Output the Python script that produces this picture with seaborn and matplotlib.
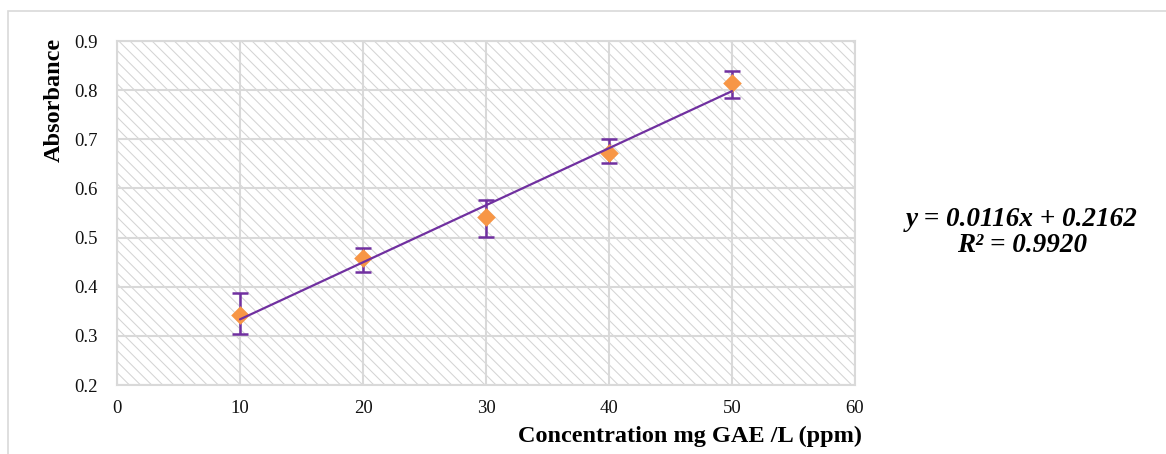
import numpy as np
import pandas as pd
import seaborn as sns
import matplotlib
matplotlib.use("Agg")
import matplotlib.pyplot as plt
from matplotlib.patches import Rectangle

# ---- data ----
concentration = [10, 20, 30, 40, 50]
absorbance = [0.342, 0.458, 0.541, 0.673, 0.815]
err_low = [0.038, 0.029, 0.040, 0.022, 0.032]
err_high = [0.045, 0.021, 0.035, 0.027, 0.024]
x_ticks = [0, 10, 20, 30, 40, 50, 60]
y_ticks = [0.2, 0.3, 0.4, 0.5, 0.6, 0.7, 0.8, 0.9]
equation_line1 = "y = 0.0116x + 0.2162"
equation_line2 = "R² = 0.9920"
xlabel = "Concentration mg GAE /L (ppm)"
ylabel = "Absorbance"

df = pd.DataFrame({"conc": concentration, "abs": absorbance})

sns.set_theme(style="white")
plt.rcParams["font.family"] = ["Liberation Serif", "DejaVu Serif"]
plt.rcParams["hatch.linewidth"] = 0.75
plt.rcParams["hatch.color"] = "#d4d4d4"

PURPLE = "#7030A0"
ORANGE = "#F79646"
GRID = "#d9d9d9"

fig = plt.figure(figsize=(11.66, 4.54), dpi=100)
ax = fig.add_axes([117 / 1166, 1 - 385 / 454, (855 - 117) / 1166, (385 - 41) / 454])

# hatched background
ax.add_patch(Rectangle((0, 0), 1, 1, transform=ax.transAxes, facecolor="white",
                       edgecolor="#d4d4d4", hatch="\\\\\\", linewidth=0, zorder=0))

# error bars
ax.errorbar(concentration, absorbance, yerr=[err_low, err_high], fmt="none",
            ecolor=PURPLE, elinewidth=1.8, capsize=5.5, capthick=1.8, zorder=3)

# markers
sns.scatterplot(data=df, x="conc", y="abs", marker="D", s=90, color=ORANGE,
                edgecolor=ORANGE, linewidth=0, ax=ax, zorder=4)

# linear trendline
sns.regplot(data=df, x="conc", y="abs", scatter=False, ci=None, truncate=True,
            color=PURPLE, line_kws={"linewidth": 1.6, "zorder": 5}, ax=ax)

ax.set_xlim(0, 60)
ax.set_ylim(0.2, 0.9)
ax.set_xticks(x_ticks)
ax.set_yticks(y_ticks)
ax.set_xticklabels([str(t) for t in x_ticks])
ax.set_yticklabels([f"{t:.1f}" for t in y_ticks])
ax.tick_params(axis="both", length=0, labelsize=13.5, colors="#111111")
ax.tick_params(axis="y", pad=14)
ax.tick_params(axis="x", pad=11)

ax.grid(True, color=GRID, linewidth=1.5, zorder=1)
ax.set_axisbelow(True)
for s in ax.spines.values():
    s.set_color(GRID)
    s.set_linewidth(1.5)

ax.set_xlabel(xlabel, fontsize=17.5, fontweight="bold", color="black", ha="right")
ax.xaxis.set_label_coords((862 - 117) / 738, -(426 - 385) / 344)
ax.set_ylabel(ylabel, fontsize=17.5, fontweight="bold", color="black")
ax.yaxis.set_label_coords(-(117 - 65) / 738, (385 - 100) / 344)

fig.text(1022 / 1166, 1 - 220 / 454, equation_line1, ha="center", va="center",
         fontsize=19.5, fontweight="bold", fontstyle="italic", color="black")
fig.text(1022 / 1166, 1 - 246 / 454, equation_line2, ha="center", va="center",
         fontsize=19.5, fontweight="bold", fontstyle="italic", color="black")

# outer chart border
fig.add_artist(Rectangle((8 / 1166, -0.1), 1.2, 1 - 11 / 454 + 0.1,
                         transform=fig.transFigure, facecolor="none",
                         edgecolor=GRID, linewidth=1.2))

fig.savefig("out.png", dpi=100, facecolor="white")
